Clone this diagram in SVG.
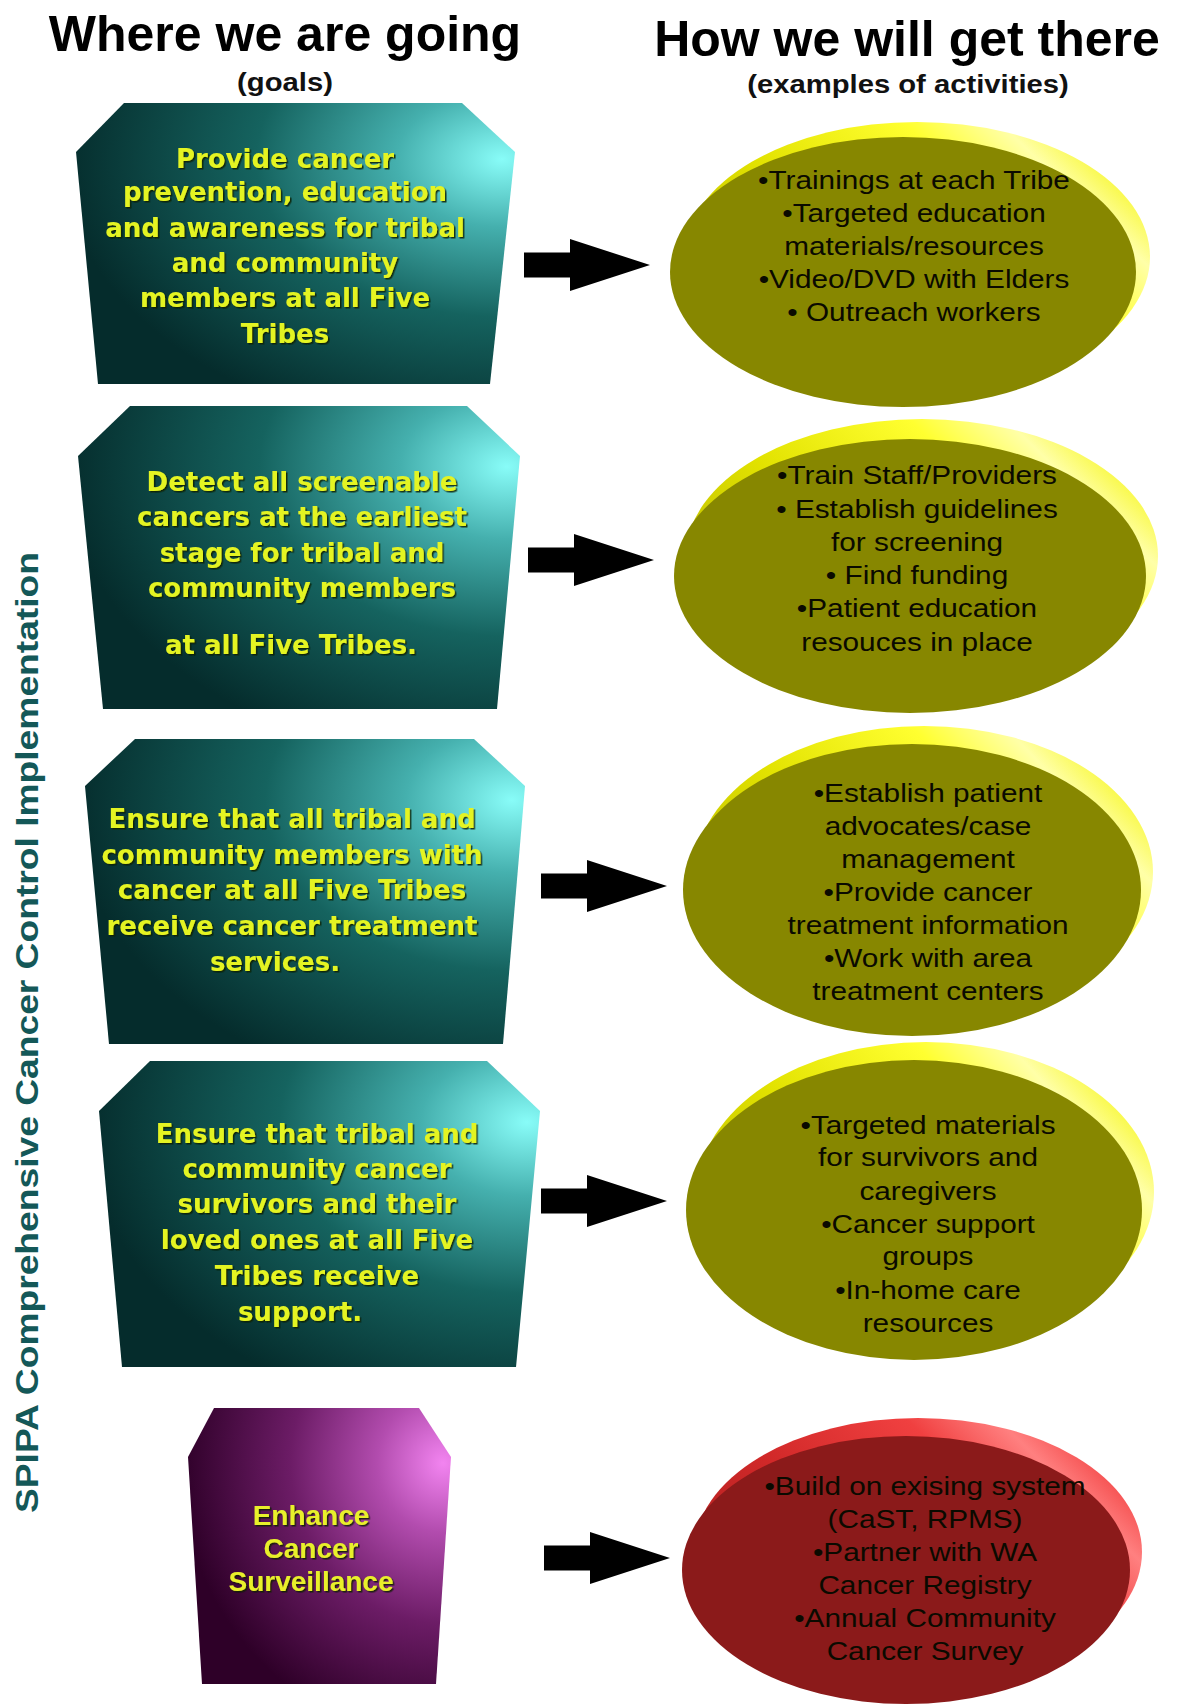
<svg xmlns="http://www.w3.org/2000/svg" width="1177" height="1706" viewBox="0 0 1177 1706">
<defs>
<style>
.title{font-family:"Liberation Sans",Arial,sans-serif;font-weight:bold;font-size:50px;fill:#000;text-anchor:middle}
.sub{font-family:"Liberation Sans",Arial,sans-serif;font-weight:bold;font-size:25px;fill:#111;text-anchor:middle}
.goal{font-family:"DejaVu Sans",Verdana,sans-serif;font-weight:bold;font-size:26px;fill:#e4f424;text-anchor:middle}
.goal5{font-family:"Liberation Sans",Arial,sans-serif;font-weight:bold;font-size:28px;fill:#e8f02c;text-anchor:middle}
.act{font-family:"Liberation Sans",Arial,sans-serif;font-size:25px;fill:#0a0a00;text-anchor:middle}
.side{font-family:"Liberation Sans",Arial,sans-serif;font-weight:bold;font-size:31px;fill:#145858}
.arrow{fill:#000}
.faceY{fill:#878700}
.faceR{fill:#8b1a1a}
</style>
<radialGradient id="teal" cx="0.97" cy="0.2" r="1.0" fx="0.97" fy="0.2">
<stop offset="0" stop-color="#88fcf8"/>
<stop offset="0.24" stop-color="#45b0ae"/>
<stop offset="0.56" stop-color="#15635f"/>
<stop offset="1" stop-color="#052c2c"/>
</radialGradient>
<radialGradient id="purple" cx="0.97" cy="0.2" r="1.0" fx="0.97" fy="0.2">
<stop offset="0" stop-color="#f284f0"/>
<stop offset="0.25" stop-color="#b24cae"/>
<stop offset="0.58" stop-color="#6c1c66"/>
<stop offset="1" stop-color="#2e0028"/>
</radialGradient>
<linearGradient id="rimY" x1="0" y1="0.8" x2="1" y2="0.2">
<stop offset="0" stop-color="#b4b400"/>
<stop offset="0.4" stop-color="#e2e200"/>
<stop offset="0.7" stop-color="#ffff30"/>
<stop offset="0.85" stop-color="#ffffa8"/>
<stop offset="1" stop-color="#f4f400"/>
</linearGradient>
<linearGradient id="rimR" x1="0" y1="0.8" x2="1" y2="0.2">
<stop offset="0" stop-color="#a82020"/>
<stop offset="0.4" stop-color="#d02828"/>
<stop offset="0.7" stop-color="#f04040"/>
<stop offset="0.85" stop-color="#ff8080"/>
<stop offset="1" stop-color="#ee3030"/>
</linearGradient>
<filter id="ts" x="-5%" y="-20%" width="110%" height="140%">
<feDropShadow dx="1.5" dy="1.5" stdDeviation="0.7" flood-color="#102000" flood-opacity="0.85"/>
</filter>
<path id="arr" d="M0,-12.5 H46 V-26 L126,0 L46,26 V12.5 H0 Z"/>
</defs>

<g id="headings">
<text class="title" x="285" y="51">Where we are going</text>
<text class="sub" transform="translate(285,91) scale(1.17,1)" x="0" y="0">(goals)</text>
<text class="title" x="907" y="56">How we will get there</text>
<text class="sub" transform="translate(908,93) scale(1.17,1)" x="0" y="0">(examples of activities)</text>
</g>

<g id="side-label">
<text class="side" transform="translate(38,1513) rotate(-90) scale(1.2,1)" x="0" y="0">SPIPA Comprehensive Cancer Control Implementation</text>
</g>

<g id="goal1">
<polygon points="124,103 462,103 515,152 490,384 98,384 76,152" fill="url(#teal)"/>
<g class="goal" filter="url(#ts)">
<text x="285" y="168">Provide cancer</text>
<text x="285" y="201">prevention, education</text>
<text x="285" y="237">and awareness for tribal</text>
<text x="285" y="272">and community</text>
<text x="285" y="307">members at all Five</text>
<text x="285" y="343">Tribes</text>
</g>
</g>

<g id="goal2">
<polygon points="130,406 467,406 520,456 497,709 103,709 78,456" fill="url(#teal)"/>
<g class="goal" filter="url(#ts)">
<text x="302" y="491">Detect all screenable</text>
<text x="302" y="526">cancers at the earliest</text>
<text x="302" y="562">stage for tribal and</text>
<text x="302" y="597">community members</text>
<text x="291" y="654">at all Five Tribes.</text>
</g>
</g>

<g id="goal3">
<polygon points="135,739 474,739 525,786 503,1044 109,1044 85,786" fill="url(#teal)"/>
<g class="goal" filter="url(#ts)">
<text x="292" y="828">Ensure that all tribal and</text>
<text x="292" y="864">community members with</text>
<text x="292" y="899">cancer at all Five Tribes</text>
<text x="292" y="935">receive cancer treatment</text>
<text x="275" y="971">services.</text>
</g>
</g>

<g id="goal4">
<polygon points="150,1061 487,1061 540,1111 516,1367 122,1367 99,1111" fill="url(#teal)"/>
<g class="goal" filter="url(#ts)">
<text x="317" y="1143">Ensure that tribal and</text>
<text x="317" y="1178">community cancer</text>
<text x="317" y="1213">survivors and their</text>
<text x="317" y="1249">loved ones at all Five</text>
<text x="317" y="1285">Tribes receive</text>
<text x="300" y="1321">support.</text>
</g>
</g>

<g id="goal5">
<polygon points="214,1408 419,1408 451,1457 436,1684 202,1684 188,1457" fill="url(#purple)"/>
<g class="goal5" filter="url(#ts)">
<text x="311" y="1525">Enhance</text>
<text x="311" y="1558">Cancer</text>
<text x="311" y="1591">Surveillance</text>
</g>
</g>

<g id="activity1">
<ellipse cx="917" cy="257" rx="233" ry="135" fill="url(#rimY)"/>
<ellipse class="faceY" cx="903" cy="272" rx="233" ry="135"/>
<g class="act" transform="translate(914,0) scale(1.19,1)">
<text x="0" y="189">•Trainings at each Tribe</text>
<text x="0" y="222">•Targeted education</text>
<text x="0" y="255">materials/resources</text>
<text x="0" y="288">•Video/DVD with Elders</text>
<text x="0" y="321">• Outreach workers</text>
</g>
</g>

<g id="activity2">
<ellipse cx="922" cy="556" rx="236" ry="137" fill="url(#rimY)"/>
<ellipse class="faceY" cx="910" cy="576" rx="236" ry="137"/>
<g class="act" transform="translate(917,0) scale(1.19,1)">
<text x="0" y="484">•Train Staff/Providers</text>
<text x="0" y="518">• Establish guidelines</text>
<text x="0" y="551">for screening</text>
<text x="0" y="584">• Find funding</text>
<text x="0" y="617">•Patient education</text>
<text x="0" y="651">resouces in place</text>
</g>
</g>

<g id="activity3">
<ellipse cx="924" cy="872" rx="229" ry="146" fill="url(#rimY)"/>
<ellipse class="faceY" cx="912" cy="890" rx="229" ry="146"/>
<g class="act" transform="translate(928,0) scale(1.19,1)">
<text x="0" y="802">•Establish patient</text>
<text x="0" y="835">advocates/case</text>
<text x="0" y="868">management</text>
<text x="0" y="901">•Provide cancer</text>
<text x="0" y="934">treatment information</text>
<text x="0" y="967">•Work with area</text>
<text x="0" y="1000">treatment centers</text>
</g>
</g>

<g id="activity4">
<ellipse cx="926" cy="1192" rx="228" ry="150" fill="url(#rimY)"/>
<ellipse class="faceY" cx="914" cy="1210" rx="228" ry="150"/>
<g class="act" transform="translate(928,0) scale(1.19,1)">
<text x="0" y="1134">•Targeted materials</text>
<text x="0" y="1166">for survivors and</text>
<text x="0" y="1200">caregivers</text>
<text x="0" y="1233">•Cancer support</text>
<text x="0" y="1265">groups</text>
<text x="0" y="1299">•In-home care</text>
<text x="0" y="1332">resources</text>
</g>
</g>

<g id="activity5">
<ellipse cx="918" cy="1552" rx="224" ry="134" fill="url(#rimR)"/>
<ellipse class="faceR" cx="906" cy="1570" rx="224" ry="134"/>
<g class="act" transform="translate(925,0) scale(1.19,1)">
<text x="0" y="1495">•Build on exising system</text>
<text x="0" y="1528">(CaST, RPMS)</text>
<text x="0" y="1561">•Partner with WA</text>
<text x="0" y="1594">Cancer Registry</text>
<text x="0" y="1627">•Annual Community</text>
<text x="0" y="1660">Cancer Survey</text>
</g>
</g>

<g id="connectors">
<use href="#arr" class="arrow" transform="translate(524,265)"/>
<use href="#arr" class="arrow" transform="translate(528,560)"/>
<use href="#arr" class="arrow" transform="translate(541,886)"/>
<use href="#arr" class="arrow" transform="translate(541,1201)"/>
<use href="#arr" class="arrow" transform="translate(544,1558)"/>
</g>
</svg>
